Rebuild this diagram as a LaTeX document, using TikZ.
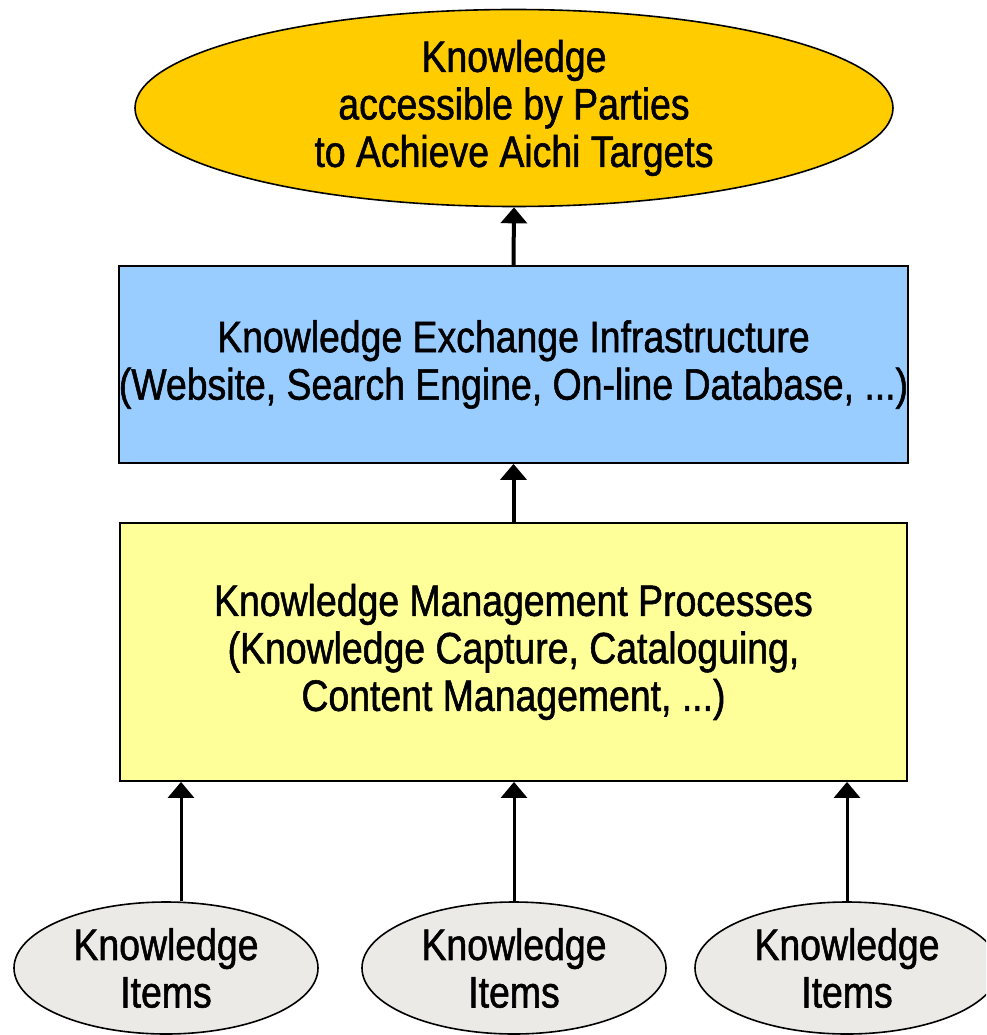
\documentclass[tikz,border=0pt]{standalone}
\usepackage{fontspec}
\setmainfont[FakeStretch=0.85,FakeBold=1.2]{Liberation Sans}
\usetikzlibrary{shapes.geometric,arrows.meta}
\definecolor{GoalColor}{RGB}{255,204,0}
\definecolor{InfraColor}{RGB}{153,204,255}
\definecolor{ProcColor}{RGB}{255,255,153}
\definecolor{ItemColor}{RGB}{235,234,230}

\begin{document}
\begin{tikzpicture}[x=1pt,y=-1pt,
    txt/.style={align=center,font=\fontsize{44}{47.5}\selectfont,inner sep=0pt},
    blob/.style n args={3}{txt,ellipse,draw,line width=1.6pt,fill=#1,minimum width=#2pt,minimum height=#3pt},
    box/.style n args={3}{txt,rectangle,draw,line width=1.8pt,fill=#1,minimum width=#2pt,minimum height=#3pt},
    up/.style={-{Triangle[width=26pt,length=16pt]},line width=#1}]
    \clip (0,0) rectangle (986,1035);
    \node[blob={GoalColor}{758}{197}](goal) at(514,108)
       {Knowledge\\accessible by Parties\\to Achieve Aichi Targets};
    \node[box={InfraColor}{787}{197}](infra) at(513.5,364.5)
       {Knowledge Exchange Infrastructure\\(Website, Search Engine, On-line Database, ...)};
    \node[box={ProcColor}{787}{258}](kmp) at(513.5,652)
       {Knowledge Management Processes\\(Knowledge Capture, Cataloguing,\\Content Management, ...)};
    \foreach \x/\n in %
    {166/1,514/2,847/3} {
       \node[blob={ItemColor}{304}{132}](item\n) at(\x,968) {Knowledge\\Items};
    }
    \draw[up=4pt] (infra.north) -- (goal.south);
    \draw[up=4pt] (kmp.north) -- (infra.south);
    \foreach \x/\n in %
    {181/1,514/2,847/3} {
       \draw[up=3pt] (\x,0 |- item\n.north) -- (\x,0 |- kmp.south);
    }
\end{tikzpicture}
\end{document}
